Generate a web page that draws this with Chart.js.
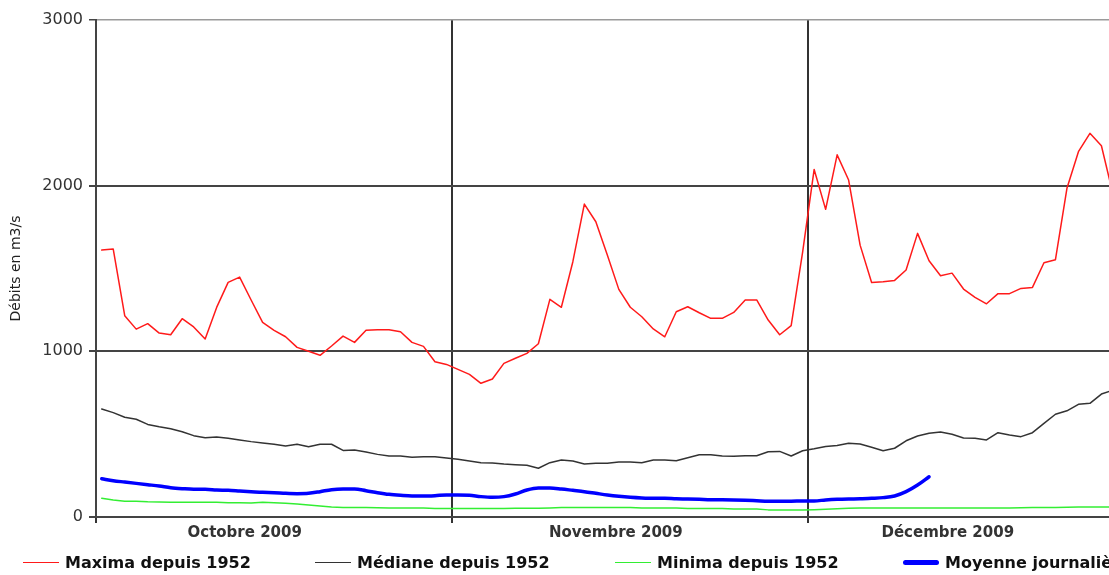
<!DOCTYPE html>
<html>
<head>
<meta charset="utf-8">
<script src="https://cdn.jsdelivr.net/npm/chart.js@4.4.0/dist/chart.umd.min.js"></script>
<style>
    body { margin: 0; background: #fff; overflow: hidden; width: 1109px; height: 575px; position: relative; font-family: "DejaVu Sans", sans-serif; }
    #debits { position: absolute; left: 0; top: 0; }
    .item { position: absolute; top: 553px; height: 19px; line-height: 19px; display: flex; align-items: center; white-space: nowrap; font-size: 16px; font-weight: bold; color: #111; }
    .item .line { display: inline-block; width: 36px; margin-right: 6px; }
</style>
</head>
<body>
<canvas id="debits" width="1109" height="575" aria-label="Débits journaliers, octobre à décembre 2009" role="img"></canvas>
<div id="legend"></div>
<script>
// débits journaliers (m3/s), un point par jour depuis le 1er octobre
const maxima = [
    1611, 1617, 1215, 1134, 1167, 1110, 1100, 1197, 1147, 1074, 1265, 1416, 1448, 1310, 1175, 1127,
    1088, 1024, 1000, 976, 1032, 1092, 1054, 1127, 1130, 1130, 1118, 1054, 1030, 937, 921, 891,
    861, 807, 833, 927, 958, 988, 1046, 1314, 1266, 1541, 1889, 1782, 1581, 1374, 1266, 1209,
    1135, 1088, 1239, 1269, 1233, 1199, 1199, 1235, 1310, 1310, 1189, 1100, 1155, 1600,
    2098, 1857, 2186, 2034, 1641, 1416, 1420, 1428, 1491, 1712, 1547, 1456, 1472, 1376, 1326,
    1287, 1348, 1348, 1380, 1386, 1535, 1553, 1984, 2205, 2316, 2241, 1950
];
const mediane = [
    652, 630, 602, 590, 559, 545, 533, 515, 491, 479, 483, 475, 465, 455, 447, 439,
    428, 439, 424, 439, 439, 402, 404, 392, 378, 368, 368, 360, 364, 364, 356, 348,
    338, 328, 326, 320, 316, 312, 294, 328, 344, 338, 320, 324, 324, 332, 332, 328,
    344, 344, 340, 358, 376, 376, 368, 366, 370, 370, 394, 396, 368, 400, 412,
    426, 432, 445, 441, 421, 400, 415, 460, 489, 505, 513, 499, 477, 475, 465, 509,
    495, 485, 509, 565, 620, 641, 680, 686, 742, 765
];
const minima = [
    113, 103, 95, 95, 92, 91, 89, 89, 89, 89, 89, 86, 86, 84, 89, 86,
    83, 78, 72, 66, 60, 58, 58, 58, 56, 54, 54, 54, 54, 52, 52, 52,
    52, 52, 52, 52, 53, 53, 53, 55, 58, 58, 58, 58, 58, 58, 58, 54,
    54, 54, 54, 52, 52, 52, 52, 48, 48, 48, 43, 43, 43, 42, 44,
    47, 50, 53, 55, 55, 55, 55, 55, 55, 55, 55, 55, 55, 55, 55, 55,
    55, 56, 57, 58, 58, 59, 60, 60, 60, 60
];
const moyenne = [
    231, 219, 211, 203, 195, 187, 177, 171, 167, 167, 163, 161, 157, 153, 149, 147,
    143, 141, 143, 153, 165, 169, 169, 159, 147, 137, 131, 127, 127, 129, 133, 133,
    131, 123, 119, 123, 139, 163, 175, 175, 169, 161, 153, 143, 133, 125, 119, 115,
    113, 113, 110, 109, 107, 104, 104, 103, 101, 98, 95, 95, 95, 97, 97,
    103, 107, 109, 110, 113, 117, 127, 153, 193, 243
];

// axe des x : limites de mois et libellés
const monthTicks = [-0.5, 12.44, 30.5, 44.74, 61.5, 73.63];
const monthLabels = ['', 'Octobre 2009', '', 'Novembre 2009', '', 'Décembre 2009'];
const yTicks = [0, 1000, 2000, 3000];

const series = [
    { label: 'Maxima depuis 1952', data: maxima, color: '#ff1a1a', width: 1.5 },
    { label: 'Médiane depuis 1952', data: mediane, color: '#333333', width: 1.5 },
    { label: 'Minima depuis 1952', data: minima, color: '#33ee33', width: 1.5 },
    { label: 'Moyenne journalière', data: moyenne, color: '#0000ff', width: 3.5, smooth: true },
];

const legendLeft = [23, 315, 615, 903];

const FONT = '"DejaVu Sans", sans-serif';

function toPoints(values) {
    return values.map((v, i) => ({ x: i, y: v }));
}

const ctx = document.getElementById('debits').getContext('2d');

new Chart(ctx, {
    type: 'line',
    data: {
        datasets: series.map((s) => ({
            label: s.label,
            data: toPoints(s.data),
            borderColor: s.color,
            backgroundColor: s.color,
            borderWidth: s.width,
            borderCapStyle: 'round',
            borderJoinStyle: 'round',
            tension: s.smooth ? 0.4 : 0,
            cubicInterpolationMode: s.smooth ? 'monotone' : 'default',
            pointRadius: 0,
            fill: false,
        })).reverse(),
    },
    options: {
        responsive: false,
        animation: false,
        devicePixelRatio: 1,
        layout: { padding: { top: 20, left: 0, right: 0, bottom: 0 } },
        plugins: {
            legend: { display: false },
            tooltip: { enabled: false },
        },
        scales: {
            x: {
                type: 'linear',
                min: -0.5,
                max: 87.66,
                afterBuildTicks: function (scale) {
                    scale.ticks = monthTicks.map((v) => ({ value: v }));
                },
                afterFit: function (scale) {
                    scale.height = 58;
                },
                grid: {
                    color: (c) => (c.index % 2 === 0 ? '#333' : 'rgba(0,0,0,0)'),
                    tickColor: (c) => (c.index % 2 === 0 ? '#333' : 'rgba(0,0,0,0)'),
                    lineWidth: 2,
                    tickLength: 6,
                },
                border: { color: '#444', width: 2 },
                ticks: {
                    autoSkip: false,
                    maxRotation: 0,
                    padding: 1,
                    color: '#333',
                    font: { family: FONT, size: 15, weight: 'bold' },
                    callback: (value, index) => monthLabels[index],
                },
            },
            y: {
                min: 0,
                max: 3000,
                afterBuildTicks: function (scale) {
                    scale.ticks = yTicks.map((v) => ({ value: v }));
                },
                afterFit: function (scale) {
                    scale.width = 96;
                },
                grid: {
                    color: (c) => (c.tick.value === 3000 ? '#9a9a9a' : '#444'),
                    lineWidth: (c) => (c.tick.value === 3000 ? 1.5 : 2),
                    tickColor: '#444',
                    tickLength: 7,
                },
                border: { color: '#444', width: 2 },
                ticks: {
                    padding: 6,
                    color: '#333',
                    font: { family: FONT, size: 16 },
                    callback: (value) => String(value),
                },
                title: {
                    display: true,
                    text: 'Débits en m3/s',
                    color: '#222',
                    font: { family: FONT, size: 14 },
                    padding: { top: 8, bottom: 0 },
                },
            },
        },
    },
});

// légende en bas, comme dans le tableur d'origine
const legend = document.getElementById('legend');
series.forEach((s, i) => {
    const item = document.createElement('div');
    item.className = 'item';
    item.style.left = legendLeft[i] + 'px';
    const line = document.createElement('span');
    line.className = 'line';
    line.style.height = (s.smooth ? 5 : 1.5) + 'px';
    line.style.background = s.color;
    if (s.smooth) line.style.borderRadius = '3px';
    item.appendChild(line);
    item.appendChild(document.createTextNode(s.label));
    legend.appendChild(item);
});
</script>
</body>
</html>
